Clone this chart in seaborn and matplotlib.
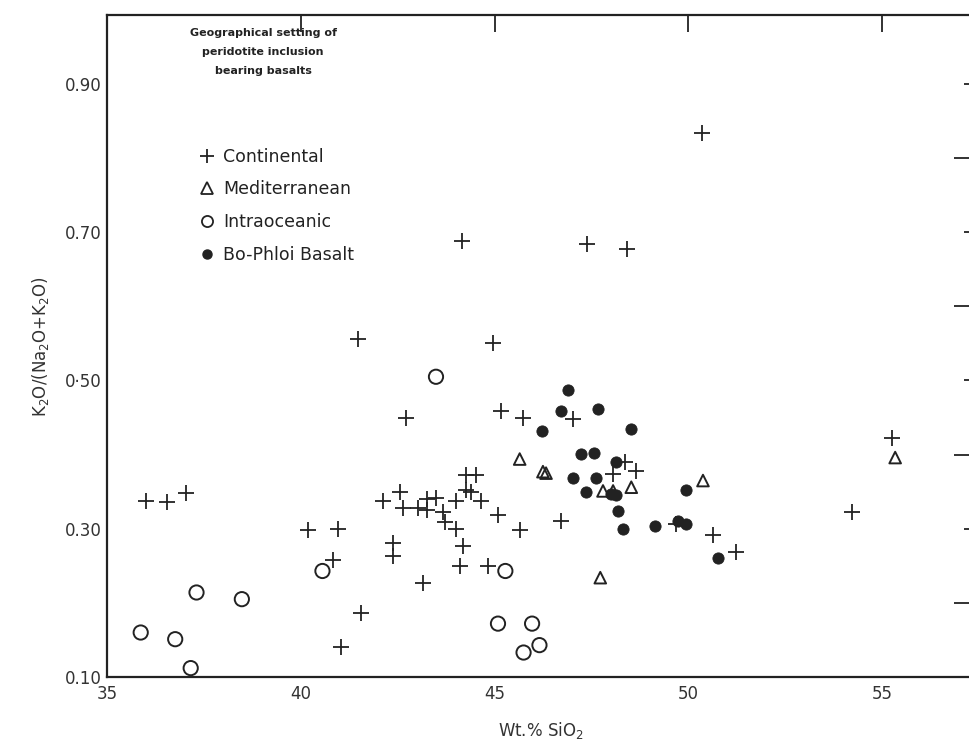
import numpy as np
import pandas as pd
import seaborn as sns
import matplotlib.pyplot as plt
from matplotlib.ticker import FixedLocator
from matplotlib.lines import Line2D

# data
continental_x = [36.0, 36.54, 37.05, 40.18, 40.97, 40.82, 41.55, 41.05, 41.49,
                 42.11, 42.55, 42.63, 43.02, 43.25, 43.48, 43.25, 42.72, 43.15,
                 42.37, 42.37, 43.66, 43.73, 44.0, 44.0, 44.27, 44.51, 44.27,
                 44.4, 44.65, 45.08, 44.18, 44.1, 44.83, 44.16, 44.96, 45.17,
                 45.73, 45.66, 46.72, 47.02, 47.38, 48.41, 48.36, 48.66, 48.06,
                 49.69, 50.64, 51.24, 50.35, 54.22, 55.26]
continental_y = [0.338, 0.336, 0.348, 0.298, 0.300, 0.258, 0.187, 0.140, 0.556,
                 0.338, 0.350, 0.328, 0.328, 0.340, 0.342, 0.325, 0.450, 0.227,
                 0.281, 0.263, 0.322, 0.309, 0.300, 0.337, 0.372, 0.373, 0.352,
                 0.350, 0.338, 0.318, 0.277, 0.250, 0.250, 0.688, 0.550, 0.459,
                 0.450, 0.298, 0.311, 0.448, 0.684, 0.678, 0.390, 0.378, 0.374,
                 0.306, 0.291, 0.268, 0.834, 0.322, 0.423]

medit_x = [45.65, 46.25, 46.33, 47.80, 48.06, 48.53, 50.38, 47.73, 55.34]
medit_y = [0.394, 0.377, 0.375, 0.351, 0.351, 0.356, 0.365, 0.234, 0.396]

oceanic_x = [43.49, 35.87, 36.76, 37.16, 37.31, 38.48, 40.56, 45.28, 45.09,
             45.97, 45.75, 46.16]
oceanic_y = [0.505, 0.160, 0.151, 0.112, 0.214, 0.205, 0.243, 0.243, 0.172,
             0.172, 0.133, 0.143]

bophloi_x = [46.89, 46.72, 47.67, 46.23, 48.53, 47.24, 47.58, 48.13, 47.02,
             47.62, 47.35, 48.00, 48.13, 48.18, 48.32, 49.13, 49.74, 49.95,
             49.93, 50.77]
bophloi_y = [0.487, 0.459, 0.462, 0.432, 0.435, 0.401, 0.402, 0.390, 0.369,
             0.369, 0.349, 0.347, 0.345, 0.324, 0.300, 0.304, 0.311, 0.307,
             0.352, 0.260]

y_major = [0.10, 0.30, 0.50, 0.70, 0.90]
y_labels = ['0.10', '0.30', '0·50', '0.70', '0.90']
x_major = [35, 40, 45, 50, 55]
legend_labels = ['Continental', 'Mediterranean', 'Intraoceanic', 'Bo-Phloi Basalt']
legend_title = 'Geographical setting of\nperidotite inclusion\nbearing basalts'

sns.set_style('white')
plt.rcParams['font.family'] = ['DejaVu Sans']

ink = '#222222'
fig = plt.figure(figsize=(9.69, 7.53), dpi=100)
ax = fig.add_axes([107/969, 76/753, (975-107)/969, (677-15)/753])

sns.scatterplot(x=continental_x, y=continental_y, marker='+', s=120,
                color=ink, linewidth=1.3, ax=ax)
sns.scatterplot(x=medit_x, y=medit_y, marker='^', s=70,
                facecolor='none', edgecolor=ink, linewidth=1.4, ax=ax)
sns.scatterplot(x=oceanic_x, y=oceanic_y, marker='o', s=105,
                facecolor='none', edgecolor=ink, linewidth=1.4, ax=ax)
sns.scatterplot(x=bophloi_x, y=bophloi_y, marker='o', s=65,
                color=ink, edgecolor=ink, ax=ax)

ax.set_xlim(35, 57.4)
ax.set_ylim(0.10, 0.993)

for sp in ax.spines.values():
    sp.set_linewidth(1.6)
    sp.set_color(ink)

ax.xaxis.set_major_locator(FixedLocator(x_major))
ax.set_xticklabels([str(v) for v in x_major])
ax.yaxis.set_major_locator(FixedLocator(y_major))
ax.yaxis.set_minor_locator(FixedLocator([0.2, 0.4, 0.6, 0.8]))
ax.set_yticklabels(y_labels)

ax.tick_params(axis='both', which='major', direction='in', labelsize=12,
               width=1.3, color=ink, labelcolor='#333333')
ax.tick_params(axis='x', which='major', length=12, top=True, pad=6)
ax.tick_params(axis='y', which='major', length=8, right=True, pad=4)
ax.tick_params(axis='y', which='minor', direction='in', length=15,
               width=1.3, right=True, color=ink)

ax.set_xlabel('Wt.% SiO$_2$', fontsize=12, color='#333333', labelpad=12)
ax.set_ylabel('K$_2$O/(Na$_2$O+K$_2$O)', fontsize=12, color='#333333',
              labelpad=10)

# legend title drawn as centred text like in the scan
ax.text(0.18, 0.98, legend_title, transform=ax.transAxes, ha='center',
        va='top', fontsize=8, color=ink, fontweight='bold', linespacing=2.1)

handles = [
    Line2D([], [], marker='+', ls='none', color=ink, markersize=10, mew=1.3),
    Line2D([], [], marker='^', ls='none', mfc='none', mec=ink, markersize=8, mew=1.3),
    Line2D([], [], marker='o', ls='none', mfc='none', mec=ink, markersize=8, mew=1.3),
    Line2D([], [], marker='o', ls='none', color=ink, markersize=6.5),
]
leg = ax.legend(handles, legend_labels, loc='upper left',
                bbox_to_anchor=(0.095, 0.81), frameon=False, fontsize=12.5,
                handletextpad=0.35, labelspacing=0.85, handlelength=1.2,
                borderaxespad=0)
for t in leg.get_texts():
    t.set_color(ink)

fig.savefig('out.png', dpi=100)
